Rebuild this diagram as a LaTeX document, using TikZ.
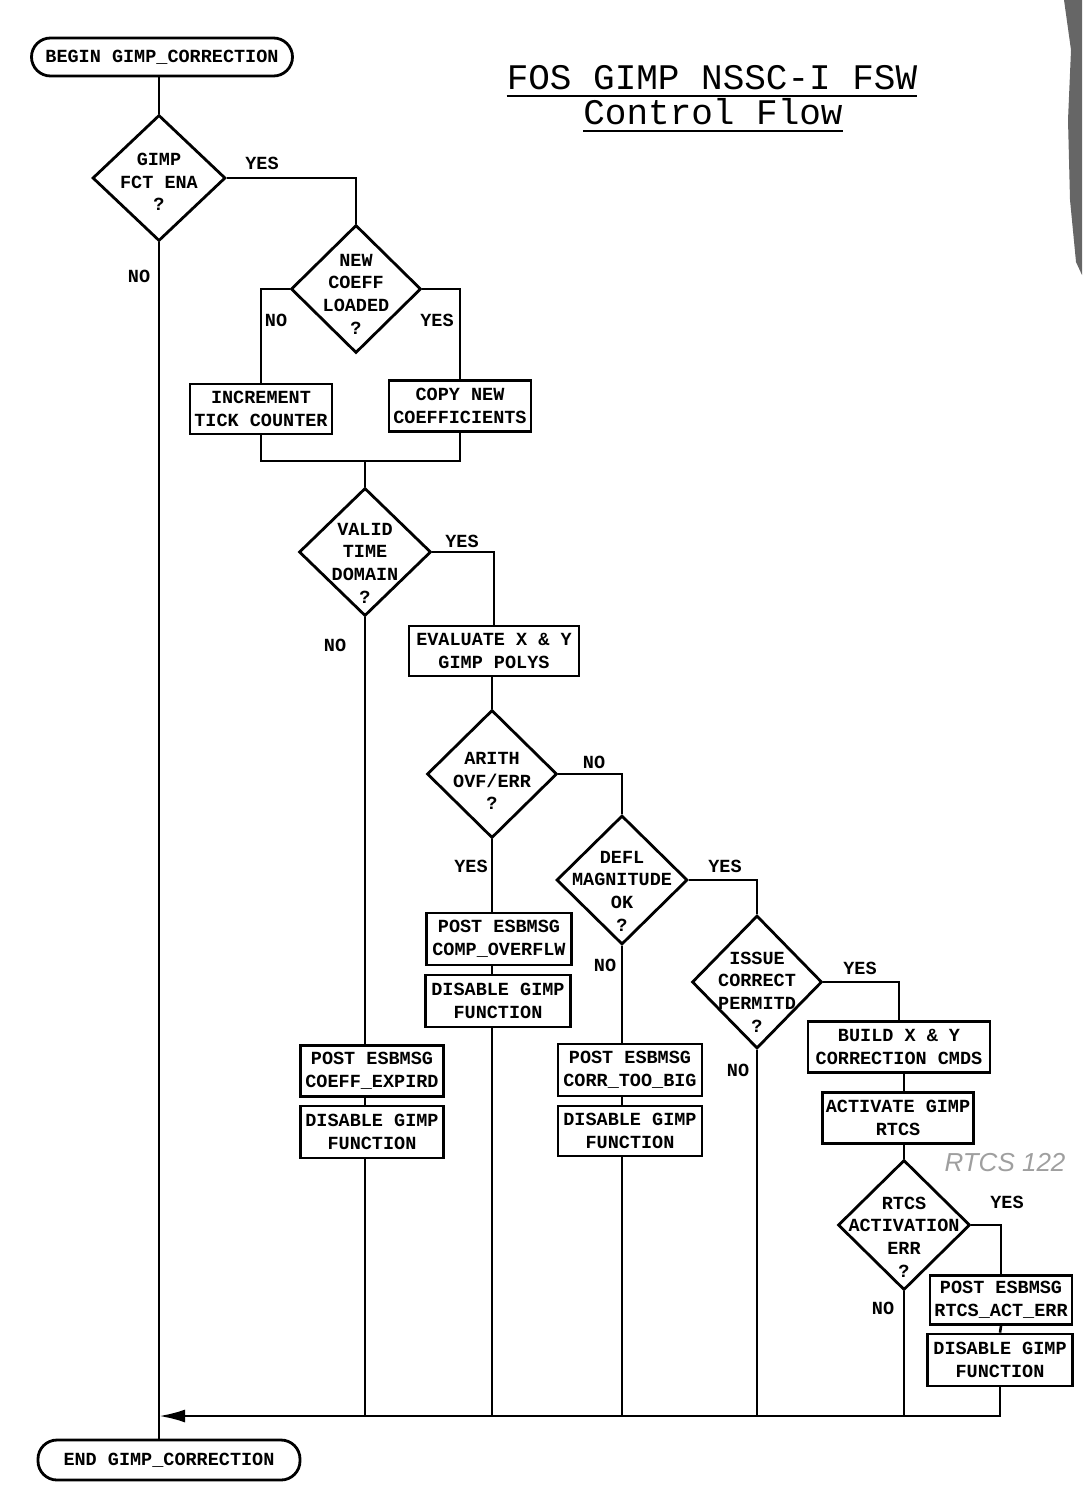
\documentclass[tikz,border=0pt]{standalone}
\usepackage{fontspec}
\setmonofont{Liberation Mono}
\newfontfamily\handfont{Liberation Sans}
\usetikzlibrary{shapes.geometric,arrows.meta}
\begin{document}
\begin{tikzpicture}[x=1pt,y=-1pt,
  every node/.style={font=\fontsize{18.5}{22.7}\selectfont\ttfamily\bfseries},
  dia/.style={diamond, draw, line width=2.8pt, inner sep=0pt},
  dtext/.style={align=center, inner sep=0pt},
  boxn/.style={rectangle, draw, line width=2.8pt, inner sep=0pt, align=center},
  term/.style={rectangle, rounded corners=19pt, draw, line width=2.8pt, inner sep=0pt},
  lbl/.style={inner sep=0pt},
  conn/.style={line width=2.6pt},
  titl/.style={font=\ttfamily\fontsize{36}{36}\selectfont, inner sep=0pt, anchor=base}]
\useasboundingbox (0,0) rectangle (1082,1498);
% scan edge
\fill[black!60] (1064,0) -- (1082,0) -- (1082,275) -- (1076,262) -- (1070,200) -- (1068,120) -- (1071,50) -- cycle;

% title
\node[titl] (t1) at (712,90) {FOS GIMP NSSC-I FSW};
\node[titl] (t2) at (713,125) {Control Flow};
\draw[line width=2.6pt] ([yshift=-6pt]t1.base west) -- ([yshift=-6pt]t1.base east);
\draw[line width=2.6pt] ([yshift=-6pt]t2.base west) -- ([yshift=-6pt]t2.base east);

% terminators
\node[term, minimum width=261pt, minimum height=38pt] (begin) at (162,57) {BEGIN GIMP\_CORRECTION};
\node[term, minimum width=262pt, minimum height=40pt] (end) at (169,1460) {END GIMP\_CORRECTION};

% decisions
\node[dia, minimum width=133pt, minimum height=126pt, label={[dtext,yshift=-4pt]center:GIMP\\FCT ENA\\?}] (d1) at (159,178) {};
\node[dia, minimum width=130pt, minimum height=128pt, label={[dtext,yshift=-5pt]center:NEW\\COEFF\\LOADED\\?}] (d2) at (356,289) {};
\node[dia, minimum width=132pt, minimum height=128pt, label={[dtext,yshift=-11pt]center:VALID\\TIME\\DOMAIN\\?}] (d3) at (365,552) {};
\node[dia, minimum width=130pt, minimum height=128pt, label={[dtext,yshift=-7pt]center:ARITH\\OVF/ERR\\?}] (d4) at (492,774) {};
\node[dia, minimum width=131pt, minimum height=129pt, label={[dtext,yshift=-11pt]center:DEFL\\MAGNITUDE\\OK\\?}] (d5) at (622,880) {};
\node[dia, minimum width=130pt, minimum height=133pt, label={[dtext,yshift=-10pt]center:ISSUE\\CORRECT\\PERMITD\\?}] (d6) at (757,982) {};
\node[dia, minimum width=132pt, minimum height=130pt, label={[dtext,yshift=-12pt]center:RTCS\\ACTIVATION\\ERR\\?}] (d7) at (904,1225) {};

% processes
\node[boxn, minimum width=142pt, minimum height=50pt] (binc) at (261,409) {INCREMENT\\TICK COUNTER};
\node[boxn, minimum width=142pt, minimum height=51pt] (bcopy) at (460,406) {COPY NEW\\COEFFICIENTS};
\node[boxn, minimum width=170pt, minimum height=50pt] (beval) at (494,651) {EVALUATE X \& Y\\GIMP POLYS};
\node[boxn, minimum width=145pt, minimum height=52pt] (bcomp) at (499,939) {POST ESBMSG\\COMP\_OVERFLW};
\node[boxn, minimum width=145pt, minimum height=52pt] (bdis1) at (498,1001) {DISABLE GIMP\\FUNCTION};
\node[boxn, minimum width=143pt, minimum height=51pt] (bexp) at (372,1071) {POST ESBMSG\\COEFF\_EXPIRD};
\node[boxn, minimum width=143pt, minimum height=52pt] (bdis2) at (372,1132) {DISABLE GIMP\\FUNCTION};
\node[boxn, minimum width=144pt, minimum height=52pt] (bbig) at (630,1070) {POST ESBMSG\\CORR\_TOO\_BIG};
\node[boxn, minimum width=144pt, minimum height=50pt] (bdis3) at (630,1131) {DISABLE GIMP\\FUNCTION};
\node[boxn, minimum width=182pt, minimum height=51pt] (bbuild) at (899,1047) {BUILD X \& Y\\CORRECTION CMDS};
\node[boxn, minimum width=151pt, minimum height=51pt] (bact) at (898,1118) {ACTIVATE GIMP\\RTCS};
\node[boxn, minimum width=142pt, minimum height=49pt] (brtcs) at (1001,1300) {POST ESBMSG\\RTCS\_ACT\_ERR};
\node[boxn, minimum width=145pt, minimum height=52pt] (bdis4) at (1000,1360) {DISABLE GIMP\\FUNCTION};

% branch labels
\node[lbl] (l1) at (262,163) {YES};
\node[lbl] (l2) at (139,276) {NO};
\node[lbl] (l3) at (276,320) {NO};
\node[lbl] (l4) at (437,320) {YES};
\node[lbl] (l5) at (462,541) {YES};
\node[lbl] (l6) at (335,645) {NO};
\node[lbl] (l7) at (594,762) {NO};
\node[lbl] (l8) at (471,866) {YES};
\node[lbl] (l9) at (725,866) {YES};
\node[lbl] (l10) at (605,965) {NO};
\node[lbl] (l11) at (860,968) {YES};
\node[lbl] (l12) at (738,1070) {NO};
\node[lbl] (l13) at (1007,1202) {YES};
\node[lbl] (l14) at (883,1308) {NO};

% handwritten note
\node[font=\handfont\itshape\fontsize{26}{26}\selectfont, text=gray!75, inner sep=0pt] (hw) at (1005,1163) {RTCS 122};

% connectors
\coordinate (j1) at (365,461);
\coordinate (busL) at (159,1416);
\draw[conn] (begin.south -| d1.north) -- (d1.north);
\draw[conn] (d1.east) -| (d2.north);
\draw[conn] (d1.south) -- (d1.south |- end.north);
\draw[conn] (d2.west) -| (binc.north);
\draw[conn] (d2.east) -| (bcopy.north);
\draw[conn] (binc.south) |- (j1);
\draw[conn] (j1) -| (bcopy.south);
\draw[conn] (j1) -- (d3.north);
\draw[conn] (d3.east) -| (beval.north);
\draw[conn] (d3.south) -- (d3.south |- bexp.north);
\draw[conn] (beval.south -| d4.north) -- (d4.north);
\draw[conn] (d4.south) -- (d4.south |- bcomp.north);
\draw[conn] (d4.east) -| (d5.north);
\draw[conn] (bcomp.south -| d4.south) -- (bdis1.north -| d4.south);
\draw[conn] (d5.east) -| (d6.north);
\draw[conn] (d5.south) -- (d5.south |- bbig.north);
\draw[conn] (bbig.south -| d5.south) -- (bdis3.north -| d5.south);
\draw[conn] (bexp.south -| d3.south) -- (bdis2.north -| d3.south);
\draw[conn] (d6.east) -| (bbuild.north);
\draw[conn] (bbuild.south -| d7.north) -- (bact.north -| d7.north);
\draw[conn] (bact.south -| d7.north) -- (d7.north);
\draw[conn] (d7.east) -| (brtcs.north);
\draw[conn] (brtcs.south) -- (bdis4.north);
\draw[conn, -{Latex[length=26pt,width=13pt]}] (bdis4.south) |- (busL);
\draw[conn] (bdis1.south -| d4.south) -- (d4.south |- busL);
\draw[conn] (bdis2.south -| d3.south) -- (d3.south |- busL);
\draw[conn] (bdis3.south -| d5.south) -- (d5.south |- busL);
\draw[conn] (d6.south) -- (d6.south |- busL);
\draw[conn] (d7.south) -- (d7.south |- busL);
\end{tikzpicture}
\end{document}
